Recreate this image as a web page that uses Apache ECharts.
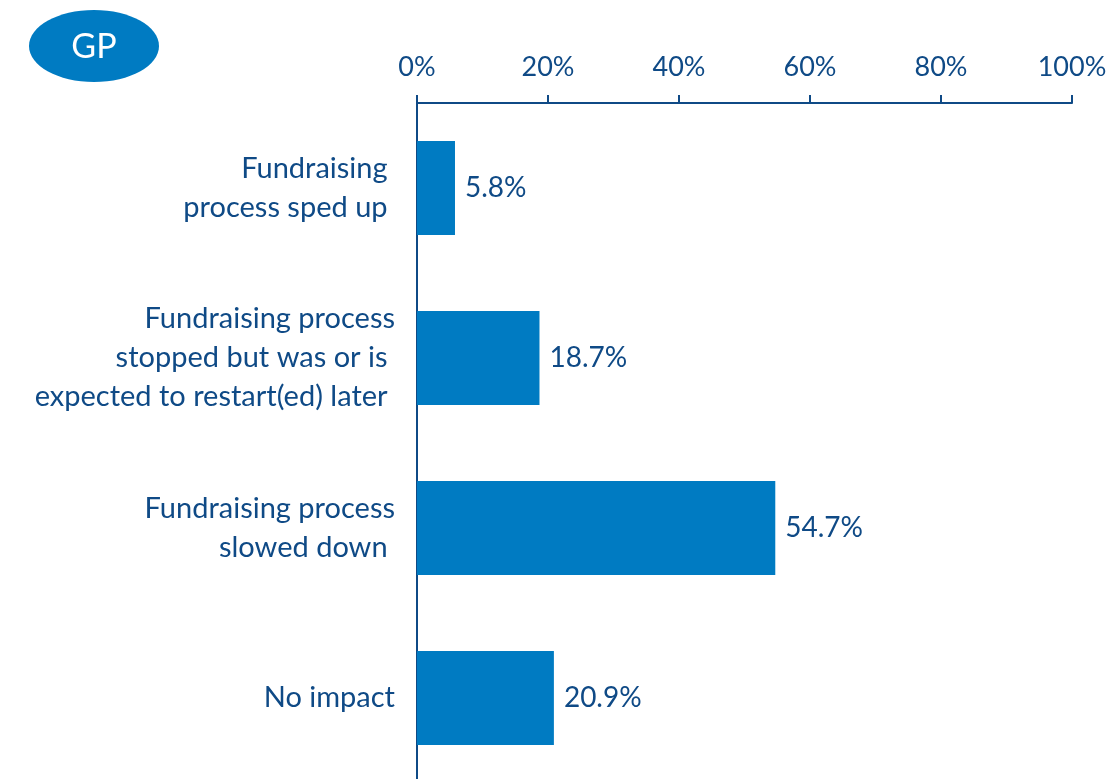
<!DOCTYPE html>
<html>
<head>
<meta charset="utf-8">
<script src="https://cdn.jsdelivr.net/npm/echarts@6/dist/echarts.min.js"></script>
<style>
  html, body { margin: 0; padding: 0; background: #fff; }
  #chart { width: 1112px; height: 779px; }
</style>
</head>
<body>
<div id="chart"></div>
<script>
// data
const categories = [
  'Fundraising \nprocess sped up ',
  'Fundraising process\nstopped but was or is \nexpected to restart(ed) later ',
  'Fundraising process\nslowed down ',
  'No impact'
];
const values = [5.8, 18.7, 54.7, 20.9];
const tickValues = [0, 20, 40, 60, 80, 100];

const textColor = '#0f4a86';
const barColor = '#007bc2';
const fontFamily = 'Lato, "Open Sans", sans-serif';

const chart = echarts.init(document.getElementById('chart'));
chart.setOption({
  animation: false,
  grid: { left: 417, right: 40, top: 103, height: 680, outerBoundsMode: 'none' },
  xAxis: {
    type: 'value',
    position: 'top',
    min: tickValues[0],
    max: tickValues[tickValues.length - 1],
    interval: 20,
    axisLine: { show: true, lineStyle: { color: textColor, width: 2 } },
    axisTick: { show: true, length: 8, lineStyle: { color: textColor, width: 2 } },
    splitLine: { show: false },
    axisLabel: {
      color: textColor,
      fontSize: 27,
      fontFamily: fontFamily,
      margin: 22,
      formatter: '{value}%'
    }
  },
  yAxis: {
    type: 'category',
    data: categories,
    inverse: true,
    axisLine: { show: true, lineStyle: { color: textColor, width: 2 } },
    axisTick: { show: false },
    axisLabel: {
      color: textColor,
      fontSize: 29,
      fontFamily: fontFamily,
      lineHeight: 39,
      align: 'right',
      margin: 22
    }
  },
  series: [{
    type: 'bar',
    data: values,
    barWidth: 94,
    itemStyle: { color: barColor },
    label: {
      show: true,
      position: 'right',
      distance: 10,
      color: textColor,
      fontSize: 28,
      fontFamily: fontFamily,
      formatter: p => p.value.toFixed(1) + '%'
    }
  }],
  graphic: [{
    type: 'ellipse',
    shape: { cx: 94, cy: 46, rx: 65, ry: 36 },
    style: { fill: barColor }
  }, {
    type: 'text',
    x: 94,
    y: 47,
    style: {
      text: 'GP',
      fill: '#fff',
      fontSize: 34,
      fontFamily: fontFamily,
      align: 'center',
      verticalAlign: 'middle'
    }
  }]
});
</script>
</body>
</html>
